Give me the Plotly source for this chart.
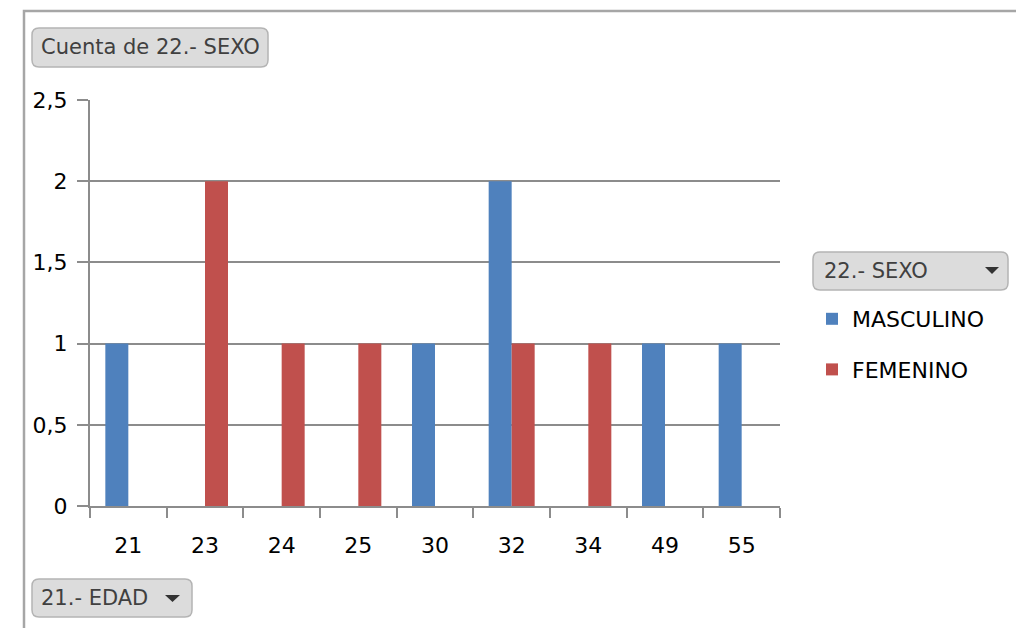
import plotly.graph_objects as go

# ---- data ----
edades = ["21", "23", "24", "25", "30", "32", "34", "49", "55"]
masculino = [1, None, None, None, 1, 2, None, 1, 1]
femenino = [None, 2, 1, 1, None, 1, 1, None, None]
y_ticks = [0, 0.5, 1, 1.5, 2, 2.5]

BLUE = "#4F81BD"
RED = "#C0504D"
GRID = "#8C8C8C"
FONT = "DejaVu Sans"

W, H = 1016, 628
L, R, T, B = 90, 780, 100, 506  # plot area in pixels


def px(x):
    return (x - L) / (R - L)


def py(y):
    return (B - y) / (B - T)


def rrect(x0, y0, x1, y1, r=7):
    rx = r / (R - L)
    ry = r / (B - T)
    X0, X1 = px(x0), px(x1)
    Ytop, Ybot = py(y0), py(y1)
    return (f"M{X0+rx},{Ytop} L{X1-rx},{Ytop} Q{X1},{Ytop} {X1},{Ytop-ry} "
            f"L{X1},{Ybot+ry} Q{X1},{Ybot} {X1-rx},{Ybot} L{X0+rx},{Ybot} "
            f"Q{X0},{Ybot} {X0},{Ybot+ry} L{X0},{Ytop-ry} Q{X0},{Ytop} {X0+rx},{Ytop} Z")


def tri(x0, x1, y0, y1):
    return f"M{px(x0)},{py(y0)} L{px(x1)},{py(y0)} L{px((x0+x1)/2)},{py(y1)} Z"


fig = go.Figure()
fig.add_trace(go.Bar(name="MASCULINO", x=edades, y=masculino, marker_color=BLUE,
                     marker_line_width=0, legendgroup="m"))
fig.add_trace(go.Bar(name="FEMENINO", x=edades, y=femenino, marker_color=RED,
                     marker_line_width=0, legendgroup="f"))

shapes = []
# chart border (top and left)
shapes.append(dict(type="path", xref="paper", yref="paper",
                   path=f"M{px(24)},{py(640)} L{px(24)},{py(11)} L{px(1030)},{py(11)}",
                   line=dict(color="#A6A6A6", width=2.5), layer="below"))
# buttons
for (x0, y0, x1, y1) in [(32, 28, 268, 67), (813, 252, 1008, 290), (32, 579, 192, 617)]:
    shapes.append(dict(type="path", xref="paper", yref="paper", path=rrect(x0, y0, x1, y1),
                       fillcolor="#DCDCDC", line=dict(color="#B4B4B4", width=1.5)))
# dropdown arrows
shapes.append(dict(type="path", xref="paper", yref="paper", path=tri(985, 999, 267, 274),
                   fillcolor="#333333", line=dict(width=0)))
shapes.append(dict(type="path", xref="paper", yref="paper", path=tri(165, 180, 595, 602),
                   fillcolor="#333333", line=dict(width=0)))

annotations = [
    dict(text="Cuenta de 22.- SEXO", x=px(39), y=py(47), xref="paper", yref="paper",
         xanchor="left", yanchor="middle", showarrow=False,
         font=dict(family=FONT, size=21, color="#404040")),
    dict(text="22.- SEXO", x=px(822), y=py(271), xref="paper", yref="paper",
         xanchor="left", yanchor="middle", showarrow=False,
         font=dict(family=FONT, size=21, color="#404040")),
    dict(text="21.- EDAD", x=px(39), y=py(598), xref="paper", yref="paper",
         xanchor="left", yanchor="middle", showarrow=False,
         font=dict(family=FONT, size=21, color="#404040")),
]

fig.update_layout(
    width=W, height=H,
    margin=dict(l=L, r=W - R, t=T, b=H - B, pad=0),
    paper_bgcolor="white", plot_bgcolor="white",
    separators=",.",
    barmode="group", bargap=0.4, bargroupgap=0,
    font=dict(family=FONT, size=22, color="#000000"),
    shapes=shapes, annotations=annotations,
    showlegend=True,
    legend=dict(x=px(812), y=py(298), xanchor="left", yanchor="top",
                xref="paper", yref="paper",
                font=dict(family=FONT, size=22, color="#000000"),
                tracegroupgap=19, traceorder="grouped",
                bgcolor="rgba(0,0,0,0)", borderwidth=0),
)
fig.update_xaxes(type="category", categoryorder="array", categoryarray=edades,
                 showline=True, linecolor=GRID, linewidth=2,
                 ticks="outside", ticklen=10, tickwidth=2, tickcolor=GRID,
                 tickson="boundaries", showgrid=False, ticklabelstandoff=19,
                 tickfont=dict(family=FONT, size=22, color="#000000"))
fig.update_yaxes(range=[0, 2.5], tickvals=y_ticks,
                 showline=True, linecolor=GRID, linewidth=2,
                 ticks="outside", ticklen=11, tickwidth=2, tickcolor=GRID,
                 showgrid=True, gridcolor=GRID, gridwidth=2,
                 zeroline=False, ticklabelstandoff=5,
                 tickfont=dict(family=FONT, size=22, color="#000000"))

fig.write_html("out.html", config={"displayModeBar": False},
               post_script="document.body.style.margin='0px';document.body.style.overflow='hidden';")
